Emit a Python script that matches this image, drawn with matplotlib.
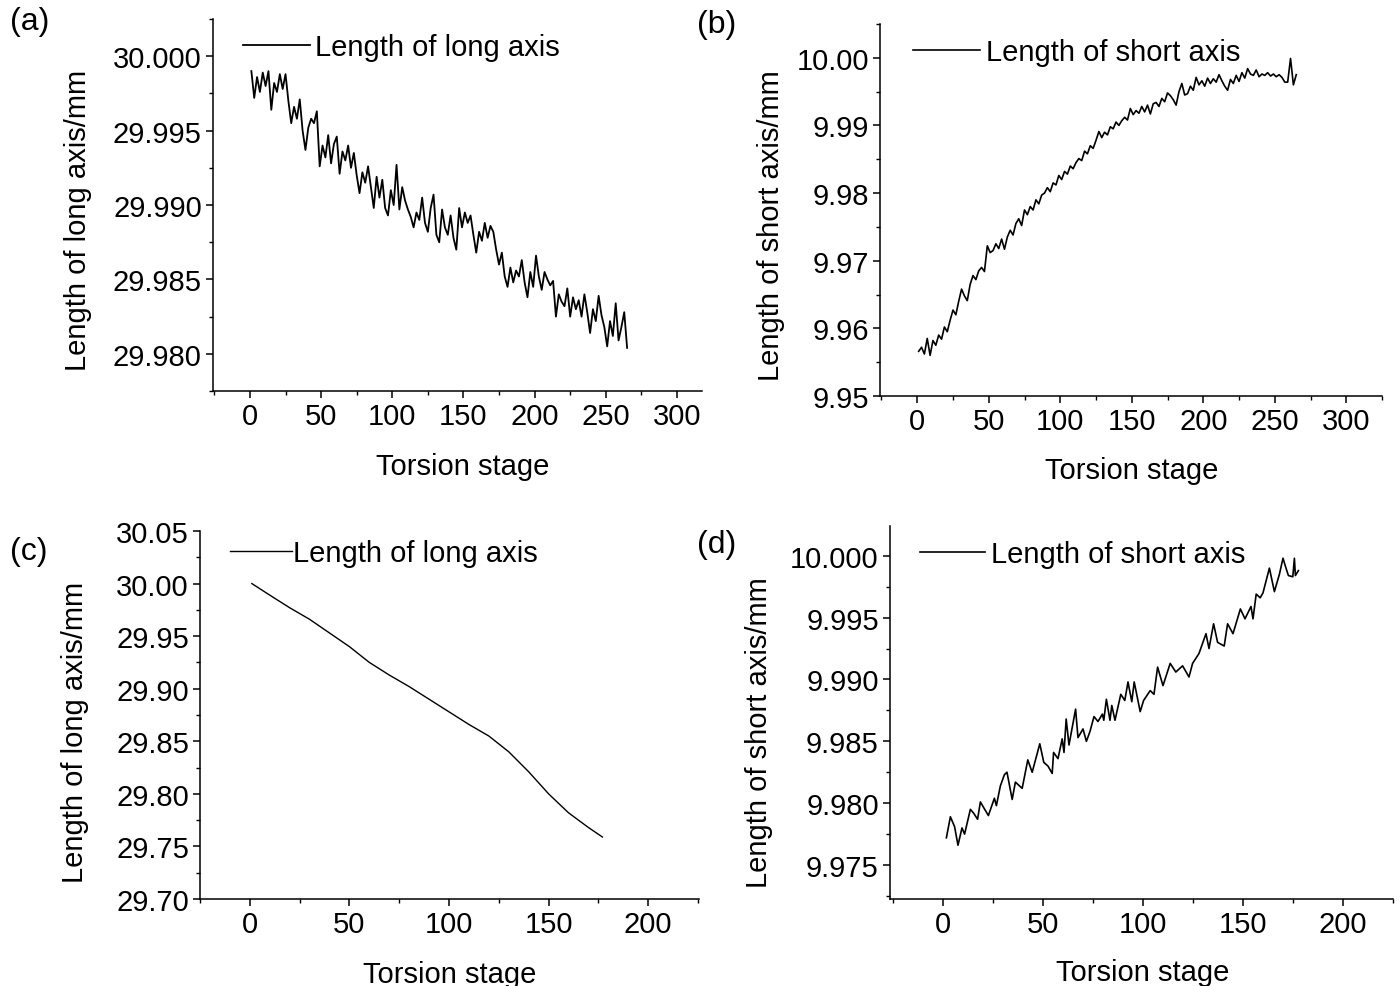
import numpy as np
import matplotlib.pyplot as plt
import matplotlib as mpl
from matplotlib.ticker import MultipleLocator, FormatStrFormatter

mpl.rcParams['font.family'] = ['Liberation Sans', 'DejaVu Sans']
mpl.rcParams['font.size'] = 21

# (a) long axis, stages 1..265 every 2
stage_a = np.arange(1, 266, 2)
long_a = [
    29.9990, 29.9972, 29.9986, 29.9976, 29.9989, 29.9980, 29.9990, 29.9964, 29.9982, 29.9976,
    29.9988, 29.9978, 29.9988, 29.9970, 29.9955, 29.9966, 29.9958, 29.9971, 29.9950, 29.9937,
    29.9952, 29.9958, 29.9955, 29.9963, 29.9926, 29.9940, 29.9932, 29.9947, 29.9928, 29.9941,
    29.9946, 29.9921, 29.9936, 29.9930, 29.9940, 29.9925, 29.9935, 29.9920, 29.9908, 29.9922,
    29.9915, 29.9926, 29.9912, 29.9898, 29.9919, 29.9905, 29.9917, 29.9898, 29.9893, 29.9910,
    29.9900, 29.9927, 29.9897, 29.9912, 29.9903, 29.9897, 29.9892, 29.9885, 29.9895, 29.9890,
    29.9905, 29.9888, 29.9882, 29.9898, 29.9907, 29.9880, 29.9875, 29.9897, 29.9885, 29.9880,
    29.9893, 29.9878, 29.9870, 29.9898, 29.9885, 29.9895, 29.9888, 29.9893, 29.9880, 29.9868,
    29.9882, 29.9876, 29.9888, 29.9878, 29.9886, 29.9882, 29.9870, 29.9860, 29.9868, 29.9852,
    29.9845, 29.9858, 29.9848, 29.9856, 29.9852, 29.9863, 29.9848, 29.9838, 29.9855, 29.9845,
    29.9866, 29.9852, 29.9843, 29.9855, 29.9850, 29.9846, 29.9849, 29.9825, 29.9840, 29.9835,
    29.9832, 29.9844, 29.9825, 29.9838, 29.9830, 29.9836, 29.9825, 29.9840, 29.9828, 29.9814,
    29.9830, 29.9822, 29.9839, 29.9826, 29.9818, 29.9805, 29.9822, 29.9812, 29.9834, 29.9809,
    29.9818, 29.9828, 29.9804]

# (b) short axis, stages 1..265 every 2
stage_b = np.arange(1, 266, 2)
short_b = [
    9.9566, 9.9572, 9.9562, 9.9585, 9.9560, 9.9582, 9.9575, 9.9590, 9.9584, 9.9602,
    9.9595, 9.9612, 9.9627, 9.9620, 9.9640, 9.9658, 9.9648, 9.9641, 9.9665, 9.9678,
    9.9672, 9.9685, 9.9690, 9.9684, 9.9722, 9.9712, 9.9715, 9.9725, 9.9718, 9.9732,
    9.9717, 9.9735, 9.9745, 9.9738, 9.9755, 9.9762, 9.9752, 9.9775, 9.9768, 9.9780,
    9.9775, 9.9790, 9.9784, 9.9797, 9.9800, 9.9808, 9.9802, 9.9815, 9.9812, 9.9826,
    9.9820, 9.9832, 9.9828, 9.9840, 9.9836, 9.9845, 9.9851, 9.9848, 9.9862, 9.9858,
    9.9870, 9.9866, 9.9878, 9.9891, 9.9882, 9.9890, 9.9886, 9.9898, 9.9895, 9.9905,
    9.9900, 9.9907, 9.9912, 9.9908, 9.9925, 9.9916, 9.9922, 9.9918, 9.9928, 9.9920,
    9.9930, 9.9917, 9.9932, 9.9934, 9.9928, 9.9940, 9.9935, 9.9948, 9.9944, 9.9938,
    9.9930, 9.9950, 9.9962, 9.9945, 9.9947, 9.9958, 9.9952, 9.9971, 9.9960, 9.9966,
    9.9958, 9.9970, 9.9962, 9.9969, 9.9964, 9.9975, 9.9966, 9.9958, 9.9952, 9.9968,
    9.9962, 9.9974, 9.9965, 9.9978, 9.9970, 9.9984, 9.9976, 9.9974, 9.9982, 9.9972,
    9.9976, 9.9974, 9.9978, 9.9973, 9.9976, 9.9972, 9.9975, 9.9971, 9.9964, 9.9964,
    9.9999, 9.9960, 9.9975]

# (c) long axis, second test
stage_c = [1, 10, 20, 30, 40, 50, 60, 70, 80, 90, 100, 110, 120, 130, 140, 150, 160, 170, 177]
long_c = [30.000, 29.989, 29.977, 29.966, 29.953, 29.940, 29.925, 29.913, 29.902, 29.890,
          29.878, 29.866, 29.855, 29.840, 29.821, 29.800, 29.782, 29.768, 29.759]

# (d) short axis, second test
stage_d = [1.7, 3.7, 5.8, 7.5, 9.5, 10.8, 13.7, 15.3, 17.3, 18.7, 20.5, 22.7,
           25.7, 26.7, 28.7, 30.7, 32, 34.6, 36.2, 39.6, 42.4, 44.6, 48.4, 50.4,
           52.5, 54.6, 55.3, 57.5, 59.6, 60.5, 61.6, 63, 66.3, 67.5, 70, 71.7,
           73.5, 75.5, 77.5, 79.7, 80.4, 81.7, 83.5, 84.4, 86, 88.9, 90.9, 92.5,
           94.4, 95.6, 98.6, 100.3, 103.6, 105.5, 107.3, 110, 113.6, 116.4, 119.8, 123,
           124.8, 128, 131.5, 133, 135.3, 137.3, 140.6, 142.3, 145, 148.7, 151, 154,
           155, 156.6, 158.6, 160, 163.2, 165.7, 168.2, 170, 171.5, 172.7, 174.9, 175.7,
           176.2, 177.7]
short_d = [9.9772, 9.9789, 9.9781, 9.9766, 9.9780, 9.9775, 9.9795, 9.9792, 9.9787, 9.9801, 9.9796, 9.9790,
           9.9804, 9.9798, 9.9814, 9.9823, 9.9825, 9.9803, 9.9817, 9.9812, 9.9835, 9.9825, 9.9848, 9.9833,
           9.9830, 9.9824, 9.9841, 9.9836, 9.9852, 9.9841, 9.9868, 9.9847, 9.9876, 9.9853, 9.9860, 9.9850,
           9.9858, 9.9870, 9.9866, 9.9872, 9.9867, 9.9884, 9.9867, 9.9879, 9.9867, 9.9888, 9.9883, 9.9898,
           9.9882, 9.9898, 9.9874, 9.9883, 9.9891, 9.9888, 9.9910, 9.9895, 9.9913, 9.9906, 9.9911, 9.9902,
           9.9913, 9.9921, 9.9937, 9.9925, 9.9945, 9.9930, 9.9927, 9.9945, 9.9937, 9.9957, 9.9949, 9.9959,
           9.9949, 9.9969, 9.9966, 9.9970, 9.9990, 9.9971, 9.9985, 9.9998, 9.9990, 9.9984, 9.9983, 9.9998,
           9.9984, 9.9988]

fig = plt.figure(figsize=(14, 9.87), dpi=100)

# panel setup: position, data, limits, ticks
panels = [
    dict(rect=[0.1521, 0.6028, 0.3493, 0.3769], x=stage_a, y=long_a, lw=1.3,
         xlim=(-26, 317.6), ylim=(29.9775, 30.0025), yt=np.arange(29.980, 30.0001, 0.005),
         ymin=0.0025, fmt='%.3f', xt=[0, 50, 100, 150, 200, 250, 300],
         ylab='Length of long axis/mm', leg='Length of long axis',
         lpos=(0.061, 0.925), hl=2.3, hp=0.17, ylc=(-0.247, 0.46), xlc=(0.511, -0.165)),
    dict(rect=[0.6286, 0.5978, 0.3586, 0.3769], x=stage_b, y=short_b, lw=1.2,
         xlim=(-26, 325), ylim=(9.95, 10.005), yt=np.arange(9.95, 10.0001, 0.01),
         ymin=0.005, fmt='%.2f', xt=[0, 50, 100, 150, 200, 250, 300],
         ylab='Length of short axis/mm', leg='Length of short axis',
         lpos=(0.066, 0.925), hl=2.3, hp=0.2, ylc=(-0.189, 0.46), xlc=(0.502, -0.161)),
    dict(rect=[0.1429, 0.0881, 0.3564, 0.3729], x=stage_c, y=long_c, lw=1.0,
         xlim=(-25, 225.5), ylim=(29.70, 30.05), yt=np.arange(29.70, 30.051, 0.05),
         ymin=0.025, fmt='%.2f', xt=[0, 50, 100, 150, 200],
         ylab='Length of long axis/mm', leg='Length of long axis',
         lpos=(0.06, 0.940), hl=2.12, hp=0.03, ylc=(-0.222, 0.456), xlc=(0.50, -0.166)),
    dict(rect=[0.6357, 0.0881, 0.3593, 0.3779], x=stage_d, y=short_d, lw=1.2,
         xlim=(-26.5, 225), ylim=(9.97225, 10.0024), yt=np.arange(9.975, 10.0001, 0.005),
         ymin=0.0025, fmt='%.3f', xt=[0, 50, 100, 150, 200],
         ylab='Length of short axis/mm', leg='Length of short axis',
         lpos=(0.06, 0.925), hl=2.23, hp=0.2, ylc=(-0.233, 0.45), xlc=(0.503, -0.158)),
]

for p in panels:
    ax = fig.add_axes(p['rect'])
    ax.plot(p['x'], p['y'], color='black', lw=p['lw'], label=p['leg'])
    ax.set_xlim(p['xlim'])
    ax.set_ylim(p['ylim'])
    ax.set_xticks(p['xt'])
    ax.set_yticks(p['yt'])
    ax.xaxis.set_minor_locator(MultipleLocator(25))
    ax.yaxis.set_minor_locator(MultipleLocator(p['ymin']))
    ax.yaxis.set_major_formatter(FormatStrFormatter(p['fmt']))
    for s in ['top', 'right']:
        ax.spines[s].set_visible(False)
    for s in ['left', 'bottom']:
        ax.spines[s].set_linewidth(1.1)
    ax.tick_params(which='major', direction='out', length=5, width=1.1, labelsize=21, pad=3)
    ax.tick_params(which='minor', direction='out', length=3, width=1.0)
    ax.set_xlabel('Torsion stage', fontsize=21)
    ax.set_ylabel(p['ylab'], fontsize=21)
    ax.xaxis.set_label_coords(*p['xlc'])
    ax.yaxis.set_label_coords(*p['ylc'])
    ax.legend(loc='center left', bbox_to_anchor=p['lpos'], frameon=False,
              handlelength=p['hl'], handletextpad=p['hp'], borderpad=0,
              borderaxespad=0, fontsize=21)

fig.text(0.007, 1 - 22 / 987, '(a)', fontsize=23, va='center')
fig.text(0.498, 1 - 25 / 987, '(b)', fontsize=23, va='center')
fig.text(0.007, 1 - 552 / 987, '(c)', fontsize=23, va='center')
fig.text(0.498, 1 - 545 / 987, '(d)', fontsize=23, va='center')

fig.savefig('out.png', dpi=100)
